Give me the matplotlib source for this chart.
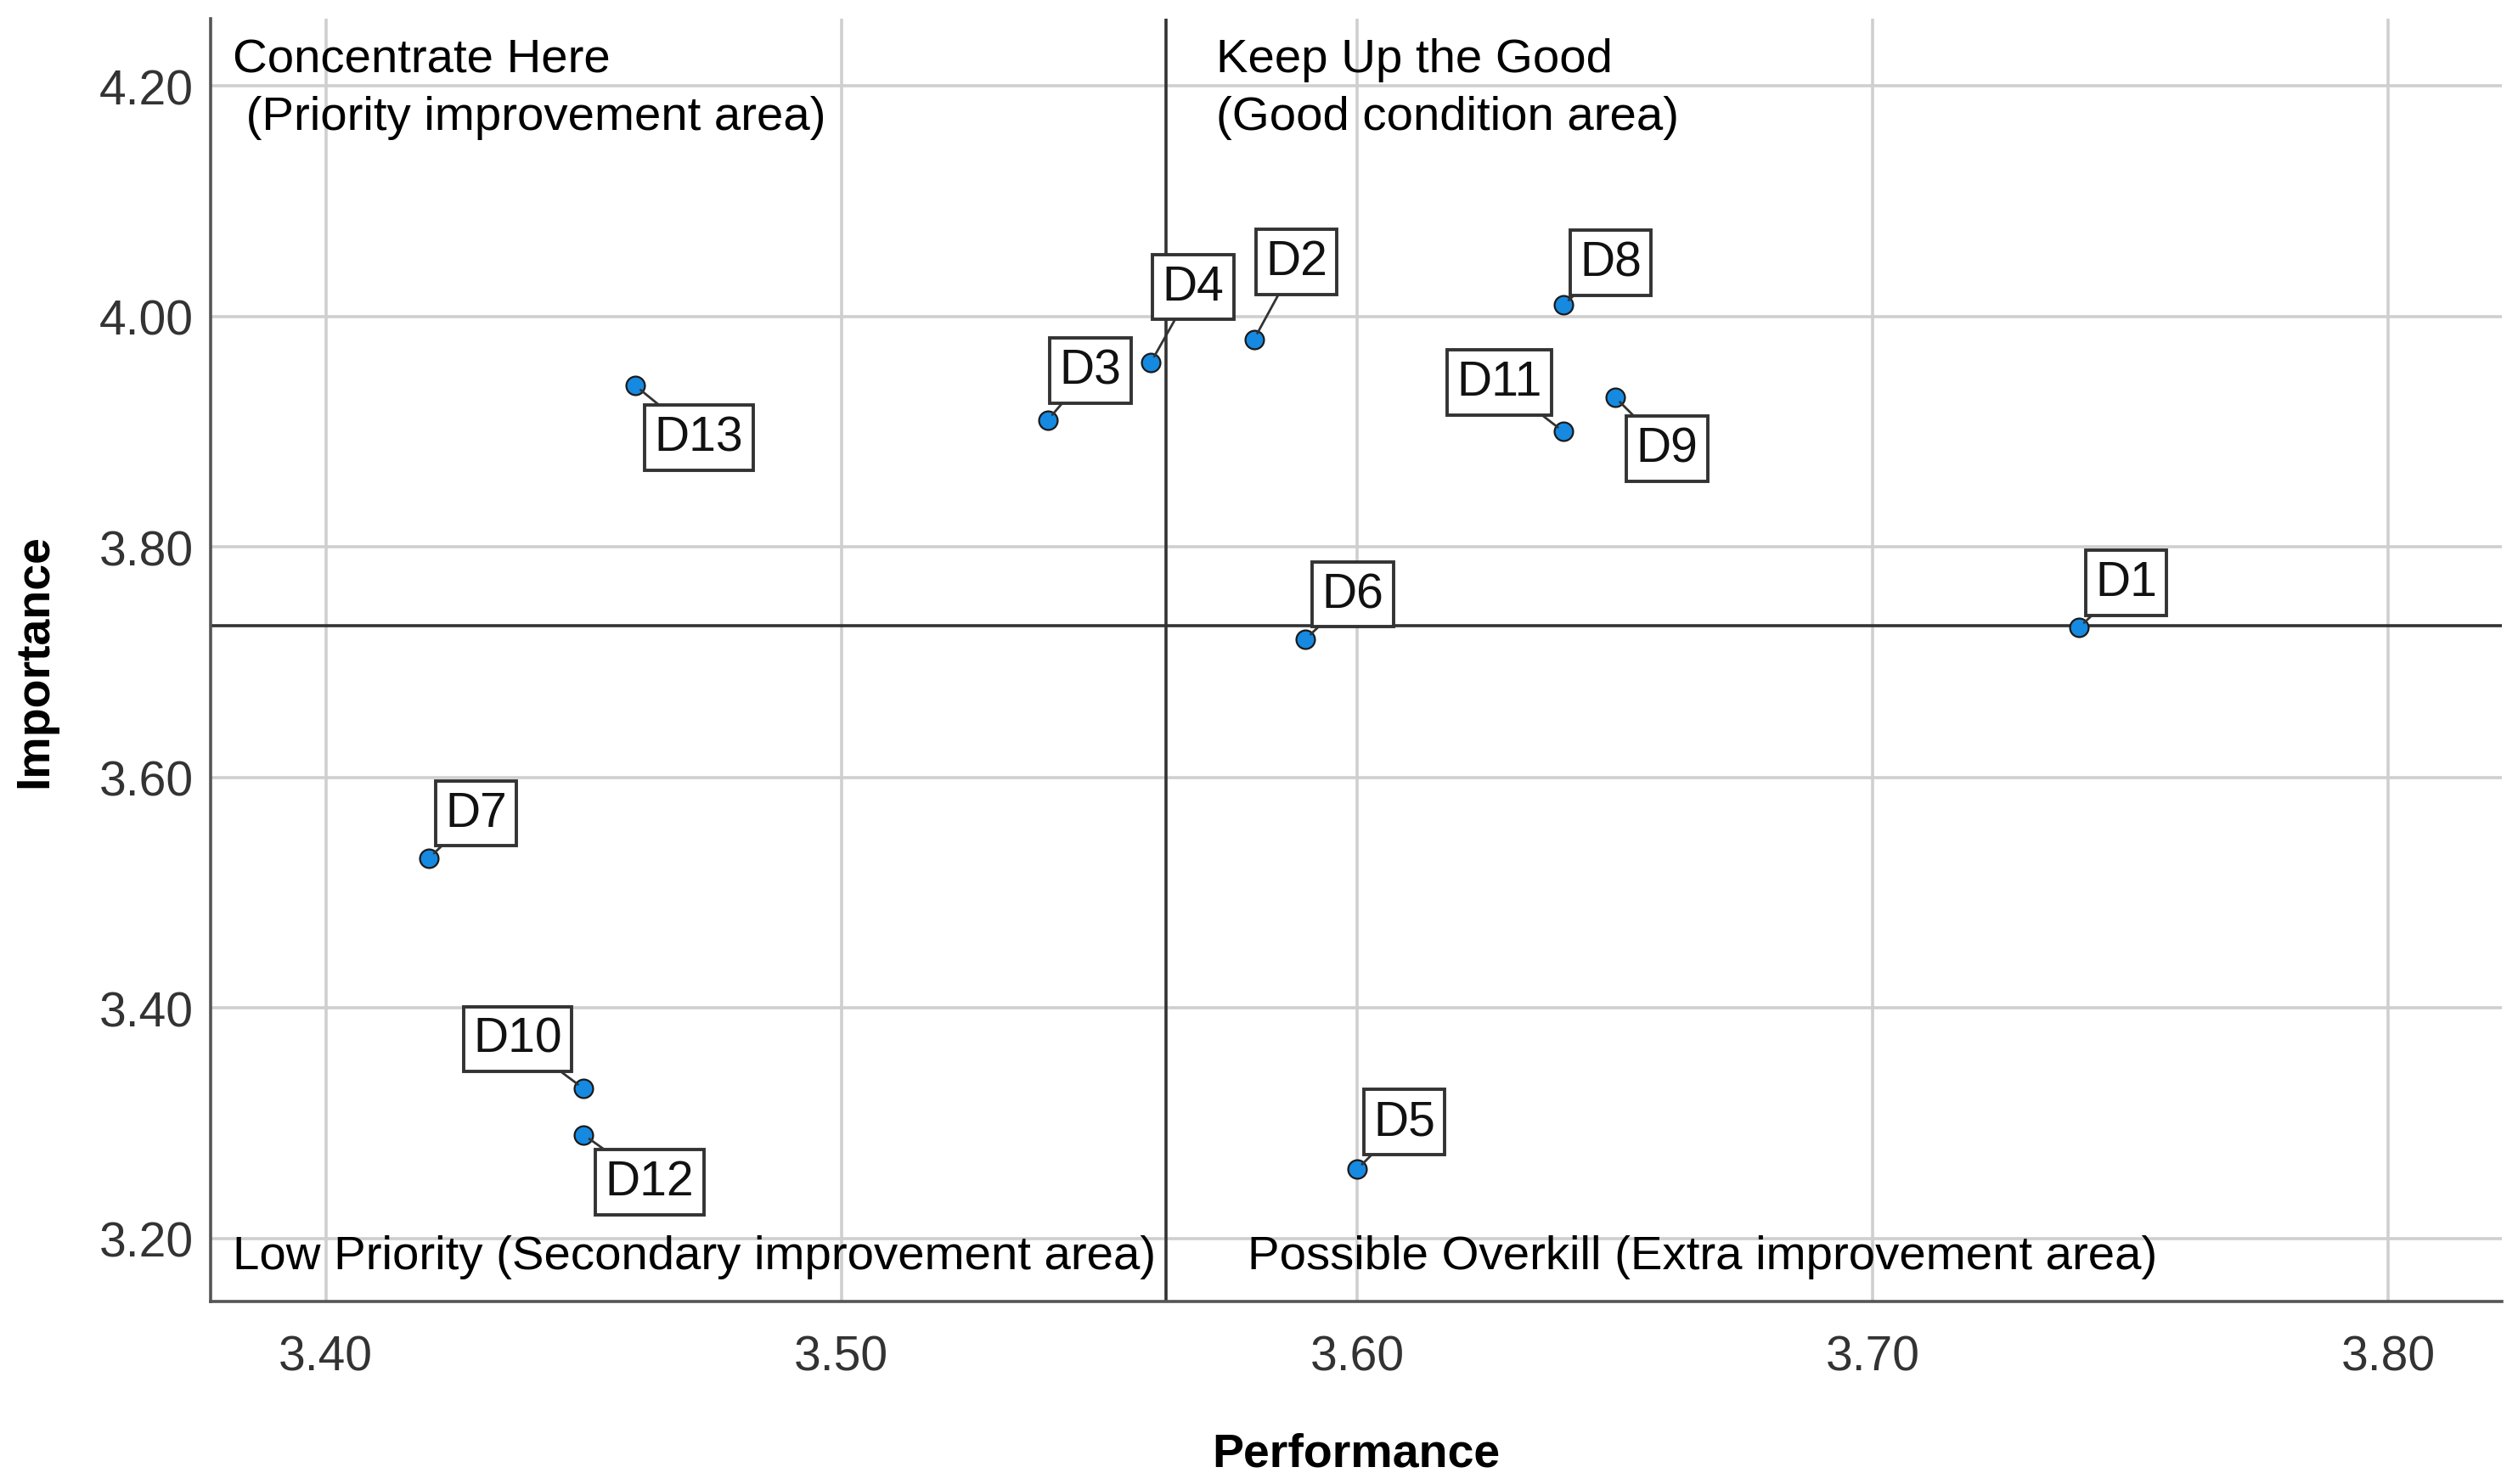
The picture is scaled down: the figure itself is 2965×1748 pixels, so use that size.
import numpy as np
import matplotlib
matplotlib.use("Agg")
import matplotlib.pyplot as plt

plt.rcParams['font.family'] = ['Liberation Sans', 'DejaVu Sans']

# IPA data: performance (x) vs importance (y)
labels = ['D1', 'D2', 'D3', 'D4', 'D5', 'D6', 'D7', 'D8', 'D9', 'D10', 'D11', 'D12', 'D13']
performance = [3.74, 3.58, 3.54, 3.56, 3.60, 3.59, 3.42, 3.64, 3.65, 3.45, 3.64, 3.45, 3.46]
importance = [3.73, 3.98, 3.91, 3.96, 3.26, 3.72, 3.53, 4.01, 3.93, 3.33, 3.90, 3.29, 3.94]

mean_perf = 3.563
mean_imp = 3.732

x_ticks = [3.40, 3.50, 3.60, 3.70, 3.80]
y_ticks = [3.20, 3.40, 3.60, 3.80, 4.00, 4.20]

quadrant_text = {
    'top_left': 'Concentrate Here\n (Priority improvement area)',
    'top_right': 'Keep Up the Good\n(Good condition area)',
    'bottom_left': 'Low Priority (Secondary improvement area)',
    'bottom_right': 'Possible Overkill (Extra improvement area)',
}

# label box offsets (points) relative to each marker
label_offset = {
    'D1': (20, 19), 'D2': (18, 33), 'D3': (18, 21), 'D4': (18, 32),
    'D5': (20, 20), 'D6': (20, 19), 'D7': (20, 19), 'D8': (20, 18),
    'D9': (22, -22), 'D10': (-28, 21), 'D11': (-27, 21), 'D12': (28, -20),
    'D13': (27, -22),
}

fig = plt.figure(figsize=(14.825, 8.745), dpi=200)
ax = fig.add_axes([0.0835, 0.1232, 0.9101, 0.8638])

ax.set_xlim(3.3776, 3.822)
ax.set_ylim(3.1457, 4.2585)
ax.set_xticks(x_ticks)
ax.set_yticks(y_ticks)
ax.set_xticklabels([f'{v:.2f}' for v in x_ticks])
ax.set_yticklabels([f'{v:.2f}' for v in y_ticks])
ax.tick_params(length=0, labelsize=20.5, labelcolor='#333333')
ax.tick_params(axis='x', pad=14)
ax.tick_params(axis='y', pad=7)

ax.grid(True, color='#cfcfcf', linewidth=1.3)
ax.set_axisbelow(True)
for side in ['top', 'right']:
    ax.spines[side].set_visible(False)
for side in ['left', 'bottom']:
    ax.spines[side].set_color('#555555')
    ax.spines[side].set_linewidth(1.3)

ax.axvline(mean_perf, color='#333333', linewidth=1.3, zorder=2)
ax.axhline(mean_imp, color='#333333', linewidth=1.3, zorder=2)

ax.scatter(performance, importance, s=62, color='#1689e0', edgecolor='#1a1a1a',
           linewidth=0.8, zorder=4)

for name, px, py in zip(labels, performance, importance):
    dx, dy = label_offset[name]
    ax.annotate(name, (px, py), xytext=(dx, dy), textcoords='offset points',
                ha='center', va='center', fontsize=20.5, color='#111111', zorder=5,
                bbox=dict(boxstyle='square,pad=0.2', fc='white', ec='#333333', lw=1.4),
                arrowprops=dict(arrowstyle='-', color='#333333', lw=1.0,
                                shrinkA=0, shrinkB=3))

ax.text(0.0098, 0.985, quadrant_text['top_left'], transform=ax.transAxes,
        ha='left', va='top', fontsize=20.3, linespacing=1.38)
ax.text(0.439, 0.985, quadrant_text['top_right'], transform=ax.transAxes,
        ha='left', va='top', fontsize=20.3, linespacing=1.38)
ax.text(0.0098, 0.035, quadrant_text['bottom_left'], transform=ax.transAxes,
        ha='left', va='center', fontsize=20.3)
ax.text(0.4527, 0.035, quadrant_text['bottom_right'], transform=ax.transAxes,
        ha='left', va='center', fontsize=20.3)

ax.set_xlabel('Performance', fontsize=20, fontweight='bold', labelpad=22)
ax.set_ylabel('Importance', fontsize=20, fontweight='bold', labelpad=18)

fig.savefig('out.png', dpi=200)
